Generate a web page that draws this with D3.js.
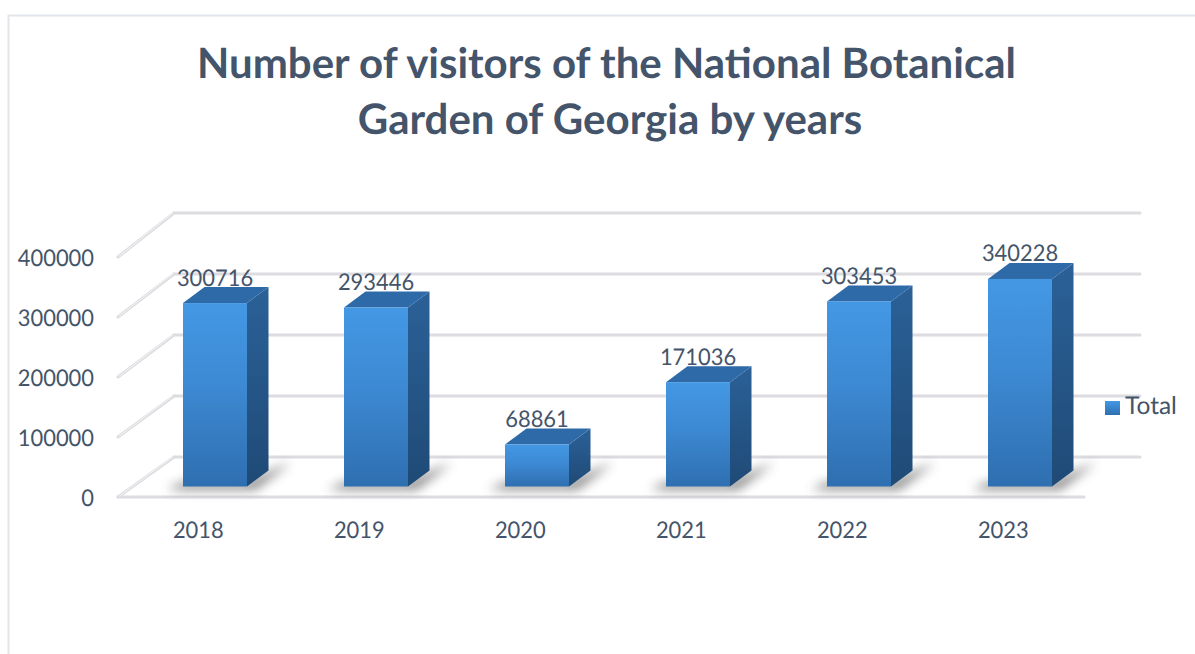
<!DOCTYPE html>
<html>
<head>
<meta charset="utf-8">
<style>
  html, body { margin: 0; padding: 0; background: #fff; }
  svg { display: block; }
  text { font-family: Lato, "Open Sans", sans-serif; fill: #44546a; text-rendering: geometricPrecision; }
</style>
<script src="https://cdn.jsdelivr.net/npm/d3@7"></script>
</head>
<body>
<script>
const years = ["2018", "2019", "2020", "2021", "2022", "2023"];
const visitors = [300716, 293446, 68861, 171036, 303453, 340228];
const yTicks = [0, 100000, 200000, 300000, 400000];
const titleLines = ["Number of visitors of the National Botanical", "Garden of Georgia by years"];
const seriesName = "Total";

const width = 1195, height = 654;
const svg = d3.select("body").append("svg").attr("width", width).attr("height", height);
const defs = svg.append("defs");

// Projection offsets of the pseudo-3D box
const bar3d = { dx: 21.5, dy: -16 };
const floorFront = 497, barFloor = 486.5;
const digitWidth = 12.7, labelSize = 23;

const x = d3.scaleBand().domain(years).range([118.5, 1084.5]).paddingInner(0).paddingOuter(0);
const y = d3.scaleLinear().domain([0, 400000]).range([barFloor, barFloor - 244]);
const axisY = d3.scaleLinear().domain([0, 400000]).range([floorFront, 257]);
const backY = d3.scaleLinear().domain([0, 400000]).range([457, 213]);
const barW = 64, barShift = 16;

function vGrad(id, stops) {
  const g = defs.append("linearGradient").attr("id", id)
    .attr("x1", 0).attr("y1", 0).attr("x2", 0).attr("y2", 1);
  stops.forEach(([o, c]) => g.append("stop").attr("offset", o).attr("stop-color", c));
}
vGrad("front", [[0, "#4398e4"], [0.45, "#3d89d3"], [1, "#2e6fb0"]]);
vGrad("side", [[0, "#2b6198"], [1, "#1f4a76"]]);
vGrad("swatch", [[0, "#4398e4"], [1, "#2e6fb0"]]);
defs.append("filter").attr("id", "soft").attr("x", "-30%").attr("y", "-150%")
  .attr("width", "160%").attr("height", "400%")
  .append("feGaussianBlur").attr("stdDeviation", 5.5);
defs.append("filter").attr("id", "lineSoft")
  .attr("x", "-5%").attr("y", "-5%").attr("width", "110%").attr("height", "110%")
  .append("feGaussianBlur").attr("stdDeviation", 0.6);

// Digit strings are fitted to a fixed advance so the numerals stay tall and narrow
function fitDigits(sel) {
  sel.attr("textLength", d => String(d.value ?? d).length * digitWidth)
    .attr("lengthAdjust", "spacingAndGlyphs");
}

// Outer frame, open on the right and bottom
svg.append("path").attr("d", "M8.5,654V15.5H1195")
  .attr("fill", "none").attr("stroke", "#e1e6eb").attr("stroke-width", 2);

// Title
svg.append("g").selectAll("text").data(titleLines).join("text")
  .attr("x", (d, i) => i === 0 ? 606.5 : 610).attr("y", (d, i) => 78 + i * 56)
  .attr("text-anchor", "middle").attr("font-size", 42)
  .style("font-weight", 700).text(d => d);

// Back wall gridlines, side wall slants and front floor edge
const grid = svg.append("g").attr("fill", "none").attr("stroke", "#dcdce1")
  .attr("stroke-width", 3).attr("stroke-linecap", "round").attr("filter", "url(#lineSoft)");
grid.selectAll(".back").data(yTicks).join("line").attr("class", "back")
  .attr("x1", 174).attr("x2", 1140)
  .attr("y1", d => backY(d)).attr("y2", d => backY(d));
grid.selectAll(".slant").data(yTicks).join("line").attr("class", "slant")
  .attr("x1", 118).attr("x2", 174)
  .attr("y1", d => axisY(d)).attr("y2", d => backY(d));
grid.append("line").attr("x1", 118).attr("x2", 1084).attr("y1", floorFront).attr("y2", floorFront);

// Light core of the side wall slants
svg.append("g").selectAll("line").data(yTicks).join("line")
  .attr("x1", 119).attr("x2", 173)
  .attr("y1", d => axisY(d) - 0.7).attr("y2", d => backY(d) - 0.2)
  .attr("stroke", "#f6f6f8").attr("stroke-width", 1);

// Y axis labels
svg.append("g").selectAll("text").data(yTicks).join("text")
  .attr("x", 94).attr("y", d => axisY(d) + 8.5)
  .attr("text-anchor", "end").attr("font-size", labelSize).text(d => d).call(fitDigits);

// X axis labels
svg.append("g").selectAll("text").data(years).join("text")
  .attr("x", d => x(d) + x.bandwidth() / 2 - 0.7).attr("y", 538)
  .attr("text-anchor", "middle").attr("font-size", labelSize).text(d => d).call(fitDigits);

const data = years.map((year, i) => ({ year, value: visitors[i] }));
const bars = svg.append("g").selectAll("g").data(data).join("g")
  .attr("transform", d => `translate(${x(d.year) + x.bandwidth() / 2 + barShift - barW / 2},0)`);

// Floor shadow
bars.append("path").attr("fill", "#4a4a4a").attr("opacity", 0.72).attr("filter", "url(#soft)")
  .attr("d", `M-16,${barFloor + 3}L${barW + 8},${barFloor + 3}L${barW + 44},${barFloor - 24}L${barW + 20},${barFloor - 14}L${barW},${barFloor - 4}L0,${barFloor - 4}Z`);

// Right side face
bars.append("path").attr("fill", "url(#side)")
  .attr("d", d => `M${barW},${y(d.value)}l${bar3d.dx},${bar3d.dy}L${barW + bar3d.dx},${barFloor + bar3d.dy}L${barW},${barFloor}Z`);

// Top face
bars.append("path").attr("fill", "#2f6aa8")
  .attr("d", d => `M0,${y(d.value)}l${bar3d.dx},${bar3d.dy}h${barW}l${-bar3d.dx},${-bar3d.dy}Z`);

// Front face
bars.append("rect").attr("x", 0).attr("width", barW)
  .attr("y", d => y(d.value)).attr("height", d => barFloor - y(d.value))
  .attr("fill", "url(#front)");

// Value labels
svg.append("g").selectAll("text").data(data).join("text")
  .attr("x", d => x(d.year) + x.bandwidth() / 2 + 16)
  .attr("y", d => y(d.value) - 17.5)
  .attr("text-anchor", "middle").attr("font-size", labelSize).text(d => d.value).call(fitDigits);

// Legend
const legend = svg.append("g");
legend.append("rect").attr("x", 1105).attr("y", 401).attr("width", 15).attr("height", 14).attr("fill", "url(#swatch)");
legend.append("text").attr("x", 1125).attr("y", 414).attr("font-size", 24.5).text(seriesName);
</script>
</body>
</html>
